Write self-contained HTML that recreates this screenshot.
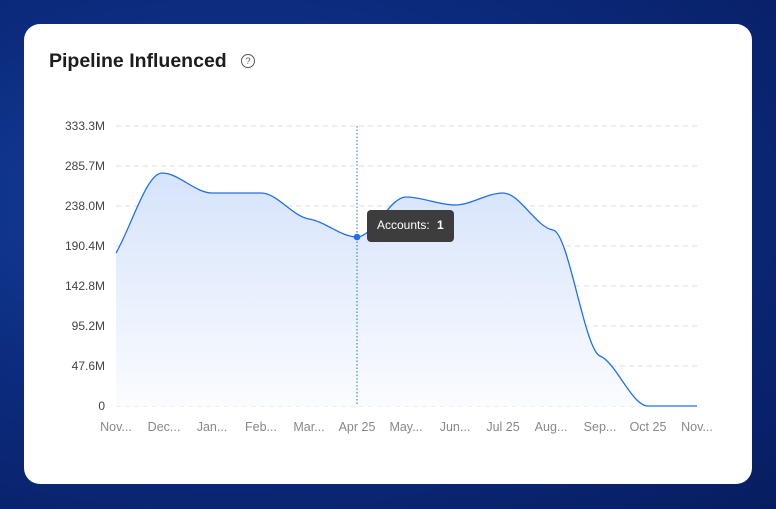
<!DOCTYPE html>
<html><head><meta charset="utf-8"><style>
html,body{margin:0;padding:0;width:776px;height:509px;overflow:hidden}
body{background:radial-gradient(ellipse at 30% 40%,#1646a0 0%,#0c2c80 45%,#071d60 100%);font-family:"Liberation Sans",sans-serif}
.card{position:absolute;left:24px;top:24px;width:728px;height:460px;background:#fff;border-radius:16px}
.title{position:absolute;left:49px;top:50px;font-size:19.5px;font-weight:bold;color:#1c1c1c}
.q{position:absolute;left:241px;top:54px;width:12px;height:12px;border:1.3px solid #555;border-radius:50%;font-size:9px;line-height:12px;text-align:center;color:#555}
svg{position:absolute;left:0;top:0}
</style></head><body>
<div class="card"></div>
<div class="title">Pipeline Influenced</div>
<div class="q">?</div>
<svg width="776" height="509" font-family="Liberation Sans, sans-serif">
<defs><linearGradient id="g" x1="0" y1="0" x2="0" y2="1"><stop offset="0" stop-color="#d6e3fb"/><stop offset="1" stop-color="#fafcff"/></linearGradient></defs>
<g stroke="#dcdcdc" stroke-dasharray="5,4" stroke-width="1">
<line x1="116" x2="697" y1="126" y2="126"/><line x1="116" x2="697" y1="166" y2="166"/><line x1="116" x2="697" y1="206" y2="206"/><line x1="116" x2="697" y1="246" y2="246"/><line x1="116" x2="697" y1="286" y2="286"/><line x1="116" x2="697" y1="326" y2="326"/><line x1="116" x2="697" y1="366" y2="366"/><line x1="116" x2="697" y1="406" y2="406"/>
</g>
<g font-size="12" fill="#444" text-anchor="end">
<text x="105" y="130">333.3M</text><text x="105" y="170">285.7M</text><text x="105" y="210">238.0M</text><text x="105" y="250">190.4M</text><text x="105" y="290">142.8M</text><text x="105" y="330">95.2M</text><text x="105" y="370">47.6M</text><text x="105" y="410">0</text>
</g>
<g font-size="12.5" fill="#888" text-anchor="middle">
<text x="116" y="431">Nov...</text><text x="164" y="431">Dec...</text><text x="212" y="431">Jan...</text><text x="261" y="431">Feb...</text><text x="309" y="431">Mar...</text><text x="357" y="431">Apr 25</text><text x="406" y="431">May...</text><text x="455" y="431">Jun...</text><text x="503" y="431">Jul 25</text><text x="551" y="431">Aug...</text><text x="600" y="431">Sep...</text><text x="648" y="431">Oct 25</text><text x="697" y="431">Nov...</text>
</g>
<path id="area" fill="url(#g)"/>
<path id="line" fill="none" stroke="#1f6ff0" stroke-width="1.3"/>
<line x1="357" x2="357" y1="126" y2="406" stroke="#1f6ff0" stroke-dasharray="1.5,2"/>
<circle cx="357" cy="237" r="3.3" fill="#1f6ff0"/>
<rect x="367" y="210" width="87" height="32" rx="4" fill="#3d3d3d"/>
<text x="377" y="229" font-size="12" fill="#fff">Accounts:</text>
<text x="437" y="229" font-size="12" fill="#fff" font-weight="bold">1</text>
</svg>
<script>
var P=[[116,253],[162,173],[212,193],[261,193],[309,219],[357,237],[406,197],[455,205],[503,193],[553,230],[600,356],[648,406],[697,406]];
var n=P.length,m=[],d=[];
for(var i=0;i<n-1;i++)d.push((P[i+1][1]-P[i][1])/(P[i+1][0]-P[i][0]));
for(i=0;i<n;i++){if(i==0)m.push(d[0]);else if(i==n-1)m.push(d[n-2]);else if(d[i-1]*d[i]<=0)m.push(0);else{var a=d[i-1],b=d[i];m.push(2/(1/a+1/b));}}
m[4]=0.15;m[9]=0.15;m[10]=0.4;
var s="M"+P[0][0]+","+P[0][1];
for(i=0;i<n-1;i++){var h=(P[i+1][0]-P[i][0])/3;s+=" C"+(P[i][0]+h)+","+(P[i][1]+m[i]*h)+" "+(P[i+1][0]-h)+","+(P[i+1][1]-m[i+1]*h)+" "+P[i+1][0]+","+P[i+1][1];}
document.getElementById("line").setAttribute("d",s);
document.getElementById("area").setAttribute("d",s+" L697,406 L116,406 Z");
</script>
</body></html>
